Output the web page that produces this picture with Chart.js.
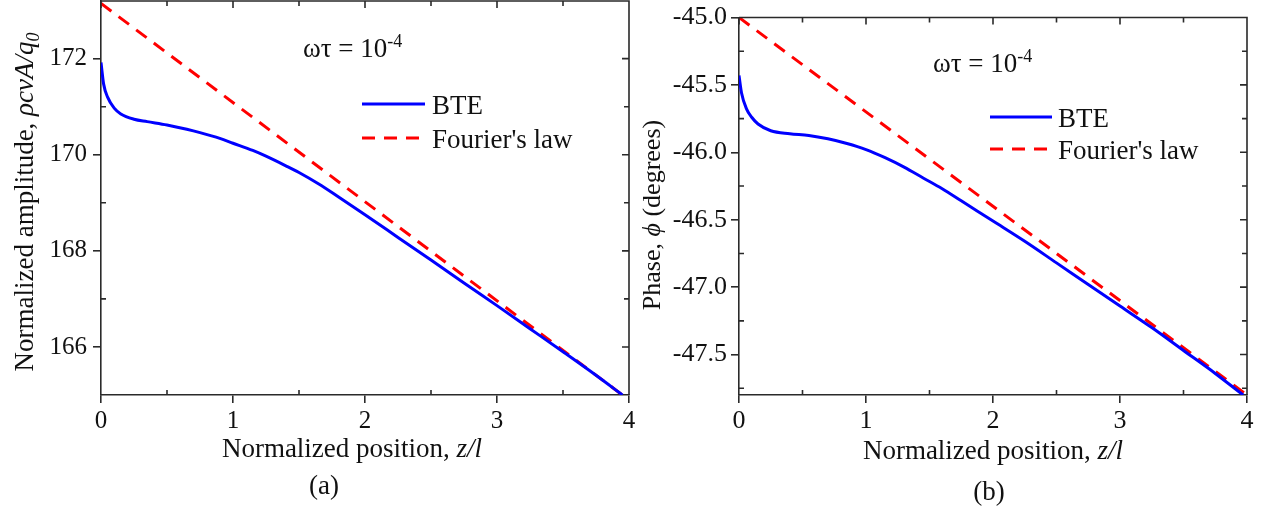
<!DOCTYPE html>
<html>
<head>
<meta charset="utf-8">
<script src="https://cdn.jsdelivr.net/npm/chart.js@4"></script>
<style>
  body { margin: 0; background: #fff; }
  #wrap { position: relative; width: 1270px; height: 509px; }
  canvas { position: absolute; top: 0; }
</style>
</head>
<body>
<div id="wrap">
  <canvas id="ampChart" width="640" height="509" style="left:0"></canvas>
  <canvas id="phaseChart" width="635" height="509" style="left:635px"></canvas>
</div>
<script>
// ---- data: normalized position z/l ----
const ampZ = [0, 0.02, 0.05, 0.1, 0.15, 0.25, 0.35, 0.5, 0.65, 0.75, 0.9, 1.0, 1.15, 1.25, 1.4, 1.5, 1.65, 1.8, 2.0, 2.25, 2.5, 2.75, 3.0, 3.25, 3.5, 3.75, 3.95];
const ampBTE = [171.92, 171.47, 171.2, 170.97, 170.85, 170.74, 170.69, 170.62, 170.53, 170.46, 170.34, 170.24, 170.09, 169.97, 169.77, 169.63, 169.39, 169.12, 168.75, 168.28, 167.81, 167.33, 166.86, 166.38, 165.9, 165.41, 165.0];
const ampFourierZ = [0, 3.95];
const ampFourier = [173.15, 165.0];

const phaseZ = [0, 0.02, 0.06, 0.1, 0.15, 0.25, 0.4, 0.55, 0.7, 0.85, 1.0, 1.15, 1.3, 1.45, 1.6, 1.75, 2.0, 2.25, 2.5, 2.75, 3.0, 3.25, 3.5, 3.75, 3.97];
const phaseBTE = [-45.43, -45.56, -45.68, -45.74, -45.79, -45.84, -45.862, -45.875, -45.9, -45.935, -45.98, -46.04, -46.11, -46.19, -46.27, -46.36, -46.51, -46.66, -46.82, -46.98, -47.14, -47.3, -47.47, -47.64, -47.8];
const phaseFourierZ = [0, 4];
const phaseFourier = [-45.0, -47.8];

// ---- ticks ----
const xMajor = [0, 1, 2, 3, 4];
const xMinor = [0.5, 1.5, 2.5, 3.5];
const ampMajor = [166, 168, 170, 172];
const ampMinor = [167, 169, 171];
const phaseMajor = [-45.0, -45.5, -46.0, -46.5, -47.0, -47.5];
const phaseMinor = [-45.25, -45.75, -46.25, -46.75, -47.25, -47.75];

const SERIF = "'Liberation Serif', 'Times New Roman', serif";
const INK = '#111';
const AXIS = '#2a2a2a';

const toPoints = (xs, ys) => xs.map((x, i) => ({ x: x, y: ys[i] }));

// text with italic / sub / superscript pieces
function partFont(p, size) {
  const s = (p.sub || p.sup) ? Math.round(size * 0.65) : size;
  return (p.it ? 'italic ' : '') + s + 'px ' + SERIF;
}
function richWidth(ctx, parts, size) {
  let w = 0;
  parts.forEach(p => { ctx.font = partFont(p, size); w += ctx.measureText(p.t).width; });
  return w;
}
function drawRich(ctx, parts, x, y, size, align) {
  let cx = align === 'center' ? x - richWidth(ctx, parts, size) / 2 : x;
  ctx.textBaseline = 'alphabetic';
  ctx.textAlign = 'left';
  parts.forEach(p => {
    ctx.font = partFont(p, size);
    const dy = p.sub ? size * 0.22 : (p.sup ? -size * 0.36 : 0);
    ctx.fillText(p.t, cx, y + dy);
    cx += ctx.measureText(p.t).width;
  });
}

// closes the box and adds the inward ticks
const frameTicks = {
  id: 'frameTicks',
  afterDatasetsDraw(chart, args, o) {
    const ctx = chart.ctx;
    const { left, right, top, bottom } = chart.chartArea;
    const xs = chart.scales.x, ys = chart.scales.y;
    ctx.save();
    ctx.strokeStyle = AXIS;
    ctx.lineWidth = 1.6;
    ctx.beginPath();
    ctx.moveTo(left, top); ctx.lineTo(right, top); ctx.lineTo(right, bottom);
    xMajor.forEach(v => { const p = xs.getPixelForValue(v); ctx.moveTo(p, top); ctx.lineTo(p, top + 7); });
    xMinor.forEach(v => {
      const p = xs.getPixelForValue(v);
      ctx.moveTo(p, top); ctx.lineTo(p, top + 5);
      ctx.moveTo(p, bottom); ctx.lineTo(p, bottom - 5);
    });
    o.yMajor.forEach(v => { const p = ys.getPixelForValue(v); ctx.moveTo(right, p); ctx.lineTo(right - 7, p); });
    o.yMinor.forEach(v => {
      const p = ys.getPixelForValue(v);
      ctx.moveTo(left, p); ctx.lineTo(left + 5, p);
      ctx.moveTo(right, p); ctx.lineTo(right - 5, p);
    });
    ctx.stroke();
    ctx.restore();
  }
};

// axis titles, note, legend and panel tag
const panelText = {
  id: 'panelText',
  afterDraw(chart, args, o) {
    const ctx = chart.ctx;
    ctx.save();
    ctx.fillStyle = INK;

    drawRich(ctx, o.note.parts, o.note.x, o.note.y, o.size, 'left');

    chart.data.datasets.forEach((ds, i) => {
      const ly = o.legend.rows[i];
      ctx.save();
      ctx.strokeStyle = ds.borderColor;
      ctx.lineWidth = ds.borderWidth;
      ctx.setLineDash(ds.borderDash || []);
      ctx.beginPath();
      ctx.moveTo(o.legend.x1, ly); ctx.lineTo(o.legend.x2, ly);
      ctx.stroke();
      ctx.restore();
      drawRich(ctx, [{ t: ds.label }], o.legend.tx, ly + 10, o.size, 'left');
    });

    drawRich(ctx, o.xTitle.parts, o.xTitle.cx, o.xTitle.y, o.size, 'center');

    ctx.save();
    ctx.translate(o.yTitle.x, o.yTitle.cy);
    ctx.rotate(-Math.PI / 2);
    drawRich(ctx, o.yTitle.parts, 0, 0, o.yTitle.size, 'center');
    ctx.restore();

    drawRich(ctx, [{ t: o.tag.t }], o.tag.cx, o.tag.y, o.size, 'center');
    ctx.restore();
  }
};

function makePanel(id, cfg) {
  return new Chart(document.getElementById(id), {
    type: 'line',
    data: {
      datasets: [
        {
          label: 'BTE',
          data: toPoints(cfg.bteZ, cfg.bte),
          borderColor: '#0000ff',
          borderWidth: 3,
          pointRadius: 0,
          cubicInterpolationMode: 'monotone'
        },
        {
          label: "Fourier's law",
          data: toPoints(cfg.fourierZ, cfg.fourier),
          borderColor: '#ff0000',
          borderWidth: 3,
          borderDash: [13, 9],
          pointRadius: 0
        }
      ]
    },
    plugins: [frameTicks, panelText],
    options: {
      responsive: false,
      animation: false,
      layout: { padding: { top: cfg.padTop, right: cfg.padRight, left: 0, bottom: 0 } },
      plugins: {
        legend: { display: false },
        tooltip: { enabled: false },
        frameTicks: { yMajor: cfg.yMajor, yMinor: cfg.yMinor },
        panelText: cfg.text
      },
      scales: {
        x: {
          type: 'linear',
          min: 0,
          max: 4,
          afterBuildTicks: s => { s.ticks = xMajor.map(v => ({ value: v })); },
          afterFit: s => { s.height = cfg.xHeight; s.paddingLeft = 0; s.paddingRight = 0; },
          ticks: { font: { family: SERIF, size: cfg.tickSize }, color: INK, padding: 3, maxRotation: 0, callback: v => String(v) },
          grid: { drawOnChartArea: false, tickLength: 8, lineWidth: 1.6, color: AXIS },
          border: { color: AXIS, width: 1.6 }
        },
        y: {
          type: 'linear',
          min: cfg.yMin,
          max: cfg.yMax,
          afterBuildTicks: s => { s.ticks = cfg.yMajor.map(v => ({ value: v })); },
          afterFit: s => { s.width = cfg.yWidth; s.paddingTop = 0; s.paddingBottom = 0; },
          ticks: { font: { family: SERIF, size: cfg.tickSize }, color: INK, padding: cfg.yPad, callback: cfg.fmt },
          grid: { drawOnChartArea: false, tickLength: 8, lineWidth: 1.6, color: AXIS },
          border: { color: AXIS, width: 1.6 }
        }
      }
    }
  });
}

makePanel('ampChart', {
  bteZ: ampZ, bte: ampBTE, fourierZ: ampFourierZ, fourier: ampFourier,
  yMin: 165, yMax: 173.2, yMajor: ampMajor, yMinor: ampMinor,
  fmt: v => String(v),
  padTop: 1, padRight: 11, xHeight: 114, yWidth: 101, yPad: 6, tickSize: 25,
  text: {
    size: 27,
    note: { x: 303, y: 57, parts: [{ t: 'ωτ = 10' }, { t: '-4', sup: true }] },
    legend: { x1: 362, x2: 425, tx: 432, rows: [104, 138] },
    xTitle: { cx: 352, y: 457, parts: [{ t: 'Normalized position, ' }, { t: 'z/l', it: true }] },
    yTitle: { x: 33, cy: 202, size: 27, parts: [{ t: 'Normalized amplitude, ' }, { t: 'ρcvA/q', it: true }, { t: '0', it: true, sub: true }] },
    tag: { cx: 324, y: 494, t: '(a)' }
  }
});

makePanel('phaseChart', {
  bteZ: phaseZ, bte: phaseBTE, fourierZ: phaseFourierZ, fourier: phaseFourier,
  yMin: -47.8, yMax: -45.0, yMajor: phaseMajor, yMinor: phaseMinor,
  fmt: v => v.toFixed(1),
  padTop: 17.5, padRight: 23, xHeight: 114, yWidth: 104, yPad: 4, tickSize: 26,
  text: {
    size: 27,
    note: { x: 298, y: 72, parts: [{ t: 'ωτ = 10' }, { t: '-4', sup: true }] },
    legend: { x1: 355, x2: 417, tx: 423, rows: [117, 149] },
    xTitle: { cx: 358, y: 459, parts: [{ t: 'Normalized position, ' }, { t: 'z/l', it: true }] },
    yTitle: { x: 25, cy: 215, size: 26, parts: [{ t: 'Phase, ' }, { t: 'ϕ', it: true }, { t: ' (degrees)' }] },
    tag: { cx: 354, y: 500, t: '(b)' }
  }
});
</script>
</body>
</html>
